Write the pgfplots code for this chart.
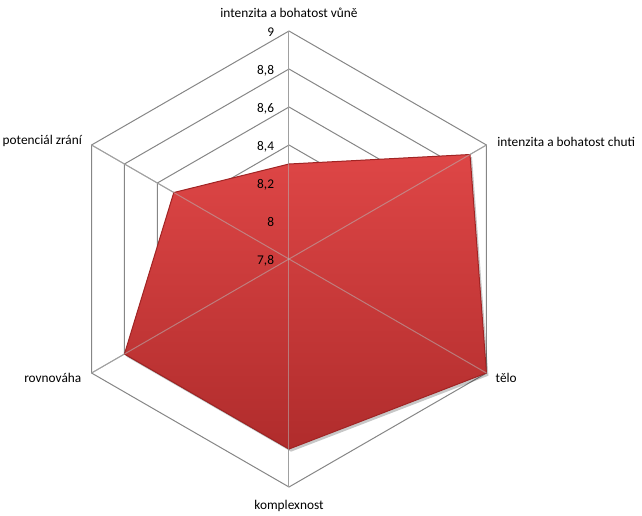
\documentclass[border=0pt]{standalone}
\usepackage{pgfplots}
\pgfplotsset{compat=1.18}
\usepgfplotslibrary{polar}
\usepackage{pgfplotstable}
\usepackage{fontspec}
\setmainfont{Carlito}
\definecolor{gridc}{RGB}{134,134,134}
\definecolor{redtop}{RGB}{222,70,70}
\definecolor{redbot}{RGB}{176,44,44}
\definecolor{redline}{RGB}{160,36,36}

\pgfplotstableread{
angle value
90 8.3
30 8.9
-30 9.0
-90 8.8
-150 8.8
150 8.5
90 8.3
}\datatable

\begin{document}
\begin{tikzpicture}[font=\fontsize{10}{12}\selectfont]
\useasboundingbox (-216.75pt,-192pt) rectangle (264.75pt,194.25pt);
\begin{polaraxis}[
  at={(0,0)}, anchor=center, scale only axis, width=342pt, height=342pt,
  hide axis, ymin=0, ymax=1.2, xmin=0, xmax=360, clip=false,
]
% hexagonal rings
\pgfplotsinvokeforeach{0.2,0.4,0.6,0.8,1.0,1.2}{
  \addplot[gridc, line width=0.75pt, no markers] coordinates {(90,#1) (30,#1) (-30,#1) (-90,#1) (-150,#1) (150,#1) (90,#1)};
}
% spokes
\pgfplotsinvokeforeach{90,30,-30,-90,-150,150}{
  \addplot[gridc, line width=0.75pt, no markers] coordinates {(#1,0) (#1,1.2)};
}
% shadow
\addplot[draw=none, fill=black, fill opacity=0.22, xshift=1.5pt, yshift=-2pt, no markers]
  table[x=angle, y expr=\thisrow{value}-7.8] {\datatable};
% data
\addplot[draw=redline, line width=0.75pt, top color=redtop, bottom color=redbot, no markers]
  table[x=angle, y expr=\thisrow{value}-7.8] {\datatable};
% spokes seen through the area
\pgfplotsinvokeforeach{90,30,-30,-90,-150,150}{
  \addplot[gridc!60!white, opacity=0.55, line width=0.75pt, no markers] coordinates {(#1,0) (#1,1.2)};
}
% radial tick labels
\node[anchor=east, inner sep=0pt, xshift=-11pt, yshift=-1pt] at (axis cs:90,0) {7,8};
\node[anchor=east, inner sep=0pt, xshift=-11pt, yshift=-1pt] at (axis cs:90,0.2) {8};
\node[anchor=east, inner sep=0pt, xshift=-11pt, yshift=-1pt] at (axis cs:90,0.4) {8,2};
\node[anchor=east, inner sep=0pt, xshift=-11pt, yshift=-1pt] at (axis cs:90,0.6) {8,4};
\node[anchor=east, inner sep=0pt, xshift=-11pt, yshift=-1pt] at (axis cs:90,0.8) {8,6};
\node[anchor=east, inner sep=0pt, xshift=-11pt, yshift=-1pt] at (axis cs:90,1.0) {8,8};
\node[anchor=east, inner sep=0pt, xshift=-11pt, yshift=-1pt] at (axis cs:90,1.2) {9};
% category labels
\node[anchor=base, inner sep=0pt, yshift=10.5pt] at (axis cs:90,1.2) {intenzita a bohatost vůně};
\node[anchor=base west, inner sep=0pt, xshift=8pt, yshift=-0.75pt] at (axis cs:30,1.2) {intenzita a bohatost chuti};
\node[anchor=base west, inner sep=0pt, xshift=6.75pt, yshift=-6.75pt] at (axis cs:-30,1.2) {tělo};
\node[anchor=base, inner sep=0pt, yshift=-17pt] at (axis cs:-90,1.2) {komplexnost};
\node[anchor=base east, inner sep=0pt, xshift=-7.5pt, yshift=-6.75pt] at (axis cs:-150,1.2) {rovnováha};
\node[anchor=base east, inner sep=0pt, xshift=-7pt, yshift=0.75pt] at (axis cs:150,1.2) {potenciál zrání};
\end{polaraxis}
\end{tikzpicture}
\end{document}
